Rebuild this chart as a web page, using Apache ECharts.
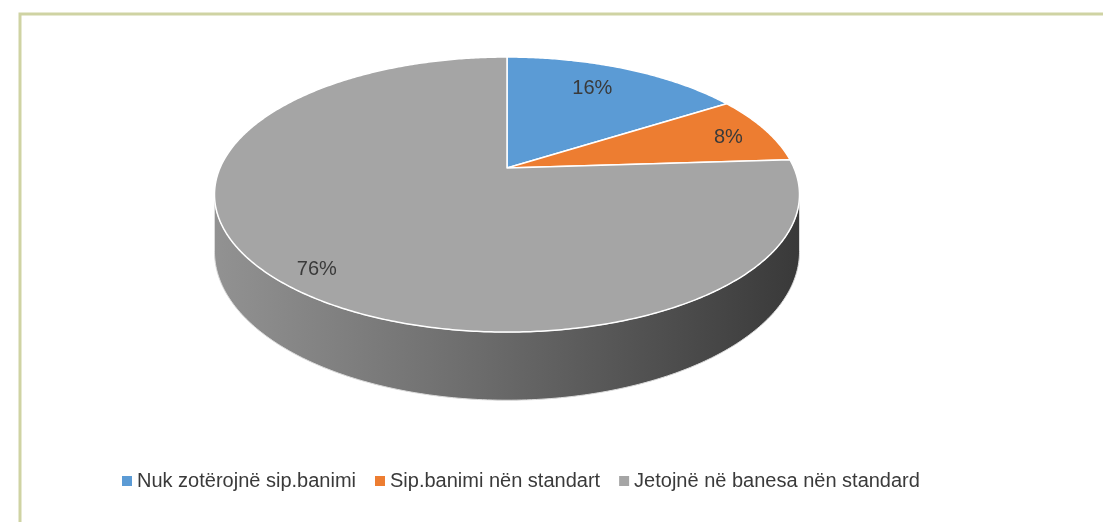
<!DOCTYPE html>
<html>
<head>
<meta charset="utf-8">
<script src="https://cdn.jsdelivr.net/npm/echarts@6/dist/echarts.min.js"></script>
<style>
  html, body { margin: 0; padding: 0; background: #fff; }
  #chart-container { width: 1103px; height: 522px; }
</style>
</head>
<body>
<div id="chart-container"></div>
<script>
var categories = ['Nuk zotërojnë sip.banimi', 'Sip.banimi nën standart', 'Jetojnë në banesa nën standard'];
var shares = [16, 8, 76];
var colors = ['#5b9bd5', '#ed7d31', '#a5a5a5'];
// small label nudges (px) so labels sit where the original put them
var labelNudge = [[-10, 0], [18, 0], [-18, 17]];

var dom = document.getElementById('chart-container');
var myChart = echarts.init(dom, null, { renderer: 'canvas' });

// tilted pie projection (perspective-ish)
var CX = 507, CY = 168, SX = 287, SY = 132.4, K = 0.193, HZ = 55;
var total = shares.reduce(function (a, b) { return a + b; }, 0);

function proj(theta, r, h) {
  var u = Math.sin(theta) * r;
  var v = -Math.cos(theta) * r;
  var w = 1 - K * v;
  return [CX + SX * u / w, CY + (SY * v + HZ * h) / w];
}

function startAngle(i) {
  var s = 0;
  for (var j = 0; j < i; j++) s += shares[j];
  return s / total * Math.PI * 2;
}

function sliceSeries(i) {
  return {
    type: 'custom',
    name: categories[i],
    coordinateSystem: 'none',
    z: 3,
    itemStyle: { color: colors[i] },
    data: [shares[i]],
    renderItem: function (params, api) {
      var val = api.value(0);
      var a0 = startAngle(i);
      var a1 = a0 + val / total * Math.PI * 2;
      var pts = [[CX, CY]];
      var n = Math.max(8, Math.round((a1 - a0) / 0.01));
      for (var k = 0; k <= n; k++) {
        pts.push(proj(a0 + (a1 - a0) * k / n, 1, 0));
      }
      var mid = (a0 + a1) / 2;
      var lp = proj(mid, 0.78, 0);
      return {
        type: 'group',
        children: [
          {
            type: 'polygon',
            shape: { points: pts },
            style: { fill: colors[i], stroke: '#ffffff', lineWidth: 1.5, lineJoin: 'round' }
          },
          {
            type: 'text',
            z2: 10,
            style: {
              x: lp[0] + labelNudge[i][0],
              y: lp[1] + labelNudge[i][1],
              text: val + '%',
              fill: '#3a3a3a',
              font: '20px "Liberation Sans", Arial, sans-serif',
              align: 'center',
              verticalAlign: 'middle'
            }
          }
        ]
      };
    }
  };
}

var sideSeries = {
  type: 'custom',
  name: 'side',
  coordinateSystem: 'none',
  z: 2,
  silent: true,
  data: [0],
  renderItem: function () {
    var tL = Math.acos(-K);
    var tR = Math.PI * 2 - tL;
    var pts = [];
    var n = 200;
    for (var k = 0; k <= n; k++) pts.push(proj(tL + (tR - tL) * k / n, 1, 0));
    for (var k2 = n; k2 >= 0; k2--) pts.push(proj(tL + (tR - tL) * k2 / n, 1, 1));
    return {
      type: 'polygon',
      shape: { points: pts },
      style: {
        fill: new echarts.graphic.LinearGradient(0, 0, 1, 0, [
          { offset: 0, color: '#929292' },
          { offset: 0.45, color: '#6c6c6c' },
          { offset: 1, color: '#393939' }
        ]),
        stroke: '#dcdcdc',
        lineWidth: 1
      }
    };
  }
};

var option = {
  animation: false,
  backgroundColor: '#ffffff',
  graphic: [
    {
      type: 'rect',
      shape: { x: 20, y: 14, width: 1200, height: 600 },
      style: { fill: 'none', stroke: '#cfd3a3', lineWidth: 3 },
      z: 0
    }
  ],
  legend: {
    data: categories,
    left: 117,
    top: 466,
    icon: 'rect',
    itemWidth: 10,
    itemHeight: 10,
    itemGap: 19,
    textStyle: {
      fontFamily: '"Liberation Sans", Arial, sans-serif',
      fontSize: 20,
      color: '#3a3a3a'
    }
  },
  series: [sideSeries, sliceSeries(0), sliceSeries(1), sliceSeries(2)]
};

if (option && typeof option === 'object') {
  myChart.setOption(option);
}

window.addEventListener('resize', myChart.resize);
</script>
</body>
</html>
